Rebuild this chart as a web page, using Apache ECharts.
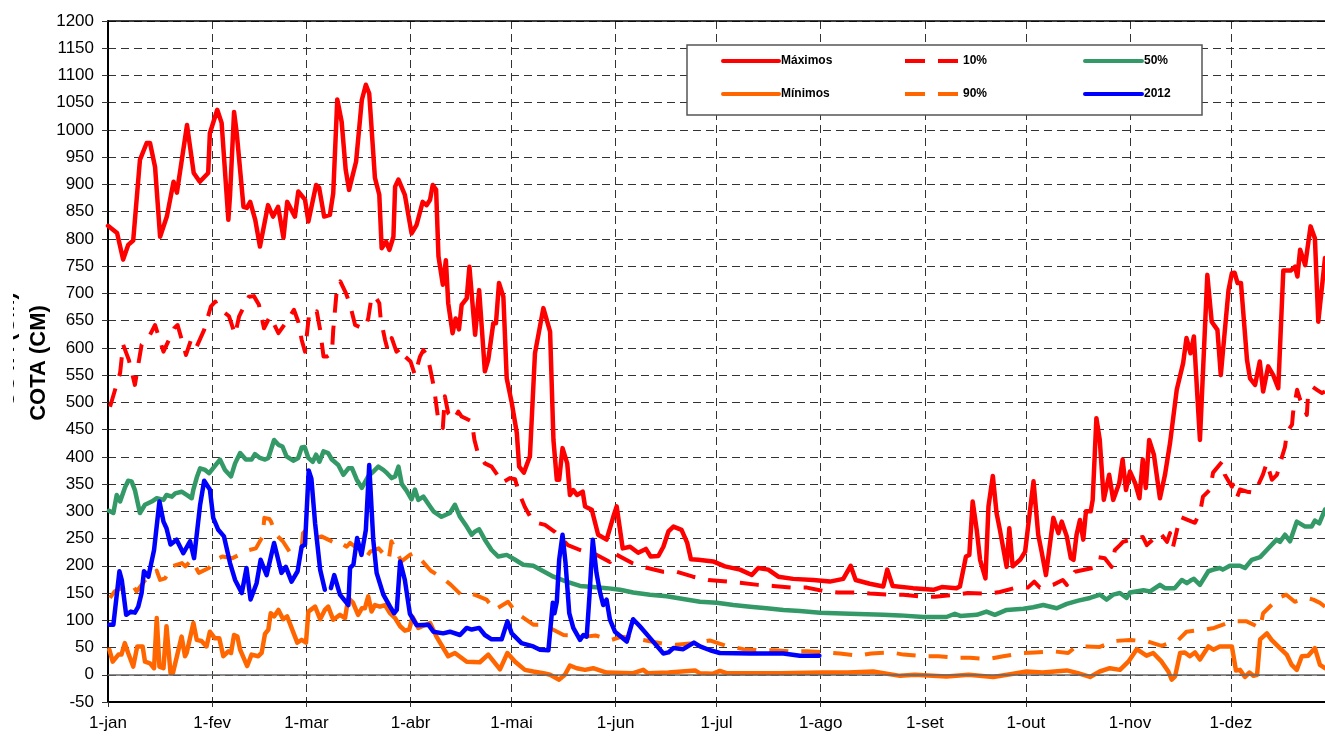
<!DOCTYPE html>
<html lang="pt">
<head>
    <meta charset="UTF-8">
    <title>Cota (cm)</title>
    <style>
        html, body { margin: 0; padding: 0; background: #fff; }
    </style>
</head>
<body>
<div id="main" style="width: 1325px;height: 738px"></div>
<script src="https://cdn.jsdelivr.net/npm/echarts@6/dist/echarts.min.js"></script>
<script>
    // eixo x: dias do ano (1-jan ... 29-dez)
    var months = ['jan', 'fev', 'mar', 'abr', 'mai', 'jun', 'jul', 'ago', 'set', 'out', 'nov', 'dez'];
    var monthDays = [31, 28, 31, 30, 31, 30, 31, 31, 30, 31, 30, 31];
    var dayCount = 363;

    var yTicks = {min: -50, max: 1200, step: 50};

    // [dia do ano (0 = 1-jan), cota em cm]
    var maxData = [[0,824],[2.7,811],[4.5,762],[6,789],[7.5,797],[9.5,945],[11.5,976],[12.5,976],[14,932],[15.5,804],[17.5,841],[19.5,905],[20.5,885],[23.5,1009],[25.5,921],[27.3,905],[29.8,921],[30.3,994],[32.5,1037],[33.8,1013],[35.8,835],[36.3,880],[37.5,1033],[38.3,994],[40.3,859],[41.3,857],[42.3,868],[43.8,835],[45.2,786],[47.6,862],[49.1,841],[50.6,859],[52.2,802],[53.3,868],[55.6,841],[56.6,887],[58.6,872],[59.6,832],[61.9,899],[62.8,894],[64.3,841],[66,844],[67,884],[68.2,1056],[69.5,1015],[70.7,927],[71.7,890],[73.8,942],[75.5,1055],[76.7,1083],[77.7,1067],[79.4,912],[80.7,881],[81.4,783],[82.7,795],[83.7,780],[84.9,804],[85.4,896],[86.4,909],[88.3,881],[90.3,810],[91.8,826],[93.6,868],[94.8,862],[95.8,872],[96.6,899],[97.6,890],[98.3,768],[99.6,716],[100.5,761],[101.2,682],[102.5,627],[103.4,654],[104.4,634],[105.2,679],[106.7,691],[107.5,749],[109.2,624],[110.4,706],[112.1,557],[113.1,578],[114.6,645],[115.4,645],[116.3,719],[117.6,694],[118.6,544],[120.1,499],[121.6,444],[122.3,382],[123.7,371],[125.5,401],[127,590],[129.5,673],[131.5,630],[132.5,431],[133.5,358],[134.2,358],[135.2,416],[136.6,388],[137.4,330],[138.4,339],[139.5,330],[141.2,336],[141.9,309],[143.9,303],[145.8,257],[148.3,248],[150.3,290],[151.3,309],[153.1,232],[155.3,235],[157.7,224],[160,231],[161.4,217],[163.7,218],[165.2,235],[166.7,263],[168.2,272],[170.6,266],[172.3,242],[173.4,212],[175.6,211],[180,208],[183.5,199],[188,193],[191.5,183],[193.4,196],[196.4,193],[199.4,180],[203.8,176],[209.8,174],[214.7,171],[218.7,176],[220.9,200],[222.4,174],[226.6,167],[230.6,162],[231.8,193],[233.4,163],[239.5,159],[245.5,156],[248,161],[252.4,159],[253.4,162],[255.2,217],[256.2,220],[257.2,318],[258.4,266],[259.4,211],[261,177],[261.9,309],[263.2,365],[264.3,297],[265.3,266],[267.3,198],[268.1,269],[269.1,199],[271.3,211],[272.8,226],[273.8,278],[275.3,355],[276.7,257],[277.7,226],[279,183],[281.2,288],[282.7,260],[283.7,281],[285.2,254],[286.4,214],[287.2,211],[288.1,257],[289.1,284],[290.1,248],[290.9,300],[292.3,300],[292.9,321],[294,471],[295,431],[296.2,321],[297.8,367],[299,321],[300.8,352],[301.8,395],[302.8,339],[304,373],[305.5,352],[306.8,324],[307.8,395],[308.7,343],[309.7,431],[311.1,404],[312.9,324],[314.4,367],[315.9,425],[317.9,523],[319.8,572],[320.8,618],[322,590],[323,621],[324.8,431],[327,734],[328.3,648],[330,633],[331,550],[333.3,706],[334.3,737],[335.1,738],[336,719],[337,719],[338.8,578],[339.7,544],[341.2,532],[342.6,575],[343.6,520],[345.1,566],[346.6,550],[348.1,526],[349.6,742],[351.8,742],[353.1,749],[353.8,731],[354.6,780],[356.1,752],[357.7,823],[359,801],[360,648],[362,765]];

    var p10Data = [[0.6,492],[3.6,554],[4.5,606],[6.2,578],[8,532],[10,606],[12,618],[14,642],[16.5,593],[19.7,636],[20.7,642],[22.8,596],[23.2,587],[24.7,615],[26.2,600],[28.6,633],[30.6,676],[31.9,685],[33,673],[36,658],[37.8,624],[39,658],[41.9,694],[43.4,695],[44.9,679],[46.4,636],[48.2,658],[50.7,627],[53.1,648],[55.3,670],[56.6,648],[57.6,615],[58.6,593],[59.8,661],[60.9,658],[62.1,667],[63.1,633],[64.1,584],[65.1,584],[66.6,590],[67,633],[68.1,710],[69.1,722],[70.8,700],[72,679],[73.5,642],[75,638],[76.4,636],[77.4,654],[78.4,694],[79.4,695],[80.7,682],[81.1,654],[82.4,615],[83.2,596],[84.4,618],[85.8,593],[87.4,600],[88.4,584],[90,575],[91.3,550],[92.8,584],[93.8,596],[94.8,587],[95.8,563],[97,526],[98.3,465],[99.6,453],[100.2,511],[101.2,480],[102.9,468],[104.2,483],[105.2,474],[108.2,465],[109,431],[110,407],[112.1,388],[114.1,382],[115.8,367],[117.1,352],[119.6,361],[121.1,359],[122.1,336],[124,308],[126.4,281],[130,275],[133,262],[136.8,238],[140.4,229],[145.4,220],[149.3,207],[150.2,224],[155.9,205],[159.1,198],[165.1,189],[169.2,189],[174,180],[178.5,174],[184.1,171],[188,169],[193.3,165],[197.8,163],[203.5,160],[207.9,160],[212.7,154],[217.1,151],[222.8,151],[226.6,149],[232.6,147],[236.5,147],[242.4,143],[246,143],[252.5,147],[255.8,150],[261.7,149],[265.3,152],[270.7,161],[273.6,160],[275.5,171],[277.2,160],[281.1,165],[284,174],[285.2,165],[287.6,189],[293,196],[294.5,216],[296.5,214],[298.5,198],[299.5,229],[301,238],[301.9,244],[306.1,251],[307.8,253],[309,238],[310.8,248],[313,260],[315,244],[315.9,260],[316.8,235],[318.9,290],[322.4,281],[323.3,279],[324.8,297],[325.7,327],[327.8,340],[328.7,371],[331.4,391],[332.2,367],[334.3,345],[334.6,349],[335.8,325],[336.7,340],[338.8,336],[341.1,334],[343.5,367],[344.7,389],[346.2,358],[347.7,367],[349.2,400],[350.1,418],[350.7,446],[352.2,459],[352.5,481],[353.7,523],[354.6,505],[356.6,477],[356.9,508],[358.4,528],[359.6,523],[361.1,517],[362,520]];

    var p50Data = [[0.3,301],[1.6,297],[2.6,330],[3.6,318],[5,343],[6,356],[7,355],[8,339],[9.5,297],[11,312],[13,318],[14.5,324],[16.5,321],[17.4,330],[19,327],[20,333],[21.9,336],[23.4,330],[24.9,324],[25.4,340],[26.4,362],[27.4,379],[28.9,376],[30.1,370],[33.3,395],[34.8,376],[36.6,364],[37.8,388],[39.3,407],[41,395],[42.7,395],[43.7,405],[45.2,398],[46.7,395],[47.7,398],[49.4,431],[50.7,422],[51.9,419],[53.1,401],[55.1,393],[56.6,398],[57.6,417],[58.5,418],[59.6,398],[60.9,391],[61.9,404],[62.9,391],[64.1,410],[65.5,407],[66.6,395],[68.5,385],[70,367],[71.5,379],[72.6,379],[74,358],[75.5,343],[77.4,364],[78.9,373],[80.4,382],[81.9,376],[83,370],[84.4,361],[85.4,364],[86.4,382],[87.4,350],[88.8,338],[90.3,322],[91.3,340],[92.3,321],[93.8,327],[95.8,309],[96.8,300],[99.2,290],[101.7,297],[103.2,312],[104.7,290],[106.7,272],[108.2,257],[109.2,263],[110.4,267],[112.1,248],[114.1,229],[116.1,217],[118.6,220],[121.1,211],[123.5,202],[126.5,200],[129.5,190],[132.5,180],[136.4,171],[140.4,163],[144.3,161],[148.3,159],[152.3,156],[156.2,151],[161.2,147],[166.2,144],[171.1,139],[176.1,134],[181.1,132],[186,128],[191,125],[195.9,122],[200.9,119],[205.8,117],[211.8,114],[220.7,112],[230.6,110],[235.6,109],[242.5,106],[249.4,106],[251.9,112],[253.5,108],[258.4,110],[261.3,116],[263.8,110],[267.3,119],[272.3,121],[275.2,124],[278.2,128],[282.2,122],[285.2,130],[288.6,136],[292.1,141],[295.1,147],[297,138],[299,147],[301,150],[303,141],[304,151],[308,155],[310,153],[312.9,165],[314.4,159],[317.3,159],[319.4,174],[320.9,168],[322.3,174],[323,176],[324.8,165],[327.3,190],[328.8,193],[330.7,196],[331.6,193],[333.7,200],[336.7,200],[338.2,196],[340.2,211],[342.7,216],[344.7,229],[347.6,248],[348.6,244],[350.1,257],[351.6,245],[353.6,281],[356.1,272],[358,272],[359,283],[360.3,278],[362,303]];

    var minData = [[0.4,46],[1.4,24],[3.1,37],[4,37],[5,58],[6,40],[7.5,15],[8.7,52],[10.3,52],[11,24],[12.5,21],[13.7,12],[14.5,104],[15.3,15],[16.5,12],[17.4,89],[18.6,3],[19.3,3],[21.9,70],[22.9,34],[23.4,40],[25.4,95],[26.4,64],[27.8,62],[29.3,52],[30.3,79],[31.8,67],[33.1,67],[34.3,34],[35.8,43],[36.6,40],[37.5,73],[38.5,70],[39.3,46],[41.4,16],[42.7,37],[44.7,34],[45.7,40],[46.7,75],[47.7,83],[48.4,113],[49.4,107],[50.7,119],[52.1,102],[53.3,107],[54.6,86],[56.3,59],[57.6,64],[58.9,59],[59.6,116],[61.6,125],[63.1,102],[64.5,119],[65.5,125],[67,101],[69,110],[70.5,104],[71.5,141],[72.9,132],[74.4,110],[75.5,122],[76.4,122],[77.4,144],[78.4,116],[79.4,128],[80.9,125],[82.4,128],[83.9,113],[85.4,104],[86.9,89],[88.3,81],[89.6,83],[90.6,106],[92.3,86],[93.8,90],[95.8,95],[97.7,70],[101.2,34],[103.2,40],[106.7,24],[110.6,23],[113.1,37],[116.6,10],[118.8,40],[121.1,24],[124,9],[126.5,6],[129.5,3],[131.5,0],[134.2,-9],[135.9,0],[137.4,17],[139.4,12],[141.9,9],[144.3,12],[148.3,4],[156.2,3],[159.2,9],[160.5,3],[166.7,4],[174.6,8],[176,3],[180,2],[182,7],[184,3],[200,3],[212,4],[220,4],[227.6,6],[235.6,-2],[240,0],[249.4,-3],[256,0],[263.3,-4],[269.3,2],[273.2,6],[278,4],[285.2,8],[288.5,3],[292.1,-4],[295,6],[298,12],[301,9],[303.5,24],[306,47],[308.9,35],[310.9,40],[313.4,24],[315.4,6],[316.4,-9],[317.4,-3],[318.9,40],[320.3,41],[321.8,34],[323.3,41],[324.8,28],[327.3,52],[328.8,46],[330.7,52],[333.2,52],[334.3,52],[335.5,8],[336.7,9],[338.2,-4],[339.5,4],[340.7,-2],[341.8,0],[342.7,65],[344.7,76],[346.1,64],[348.6,49],[350.6,37],[352.1,18],[353.6,9],[355.1,34],[357,35],[359,49],[360.5,18],[362,12]];

    var p90Data = [[0.6,141],[2,153],[7,168],[8.5,153],[11.5,177],[14.5,191],[15.5,174],[17,177],[19,199],[22,205],[23,199],[25,211],[27,187],[30,196],[32,211],[34,217],[37,214],[39,220],[41,226],[42,229],[44,232],[46,254],[46.5,288],[48,286],[48.5,281],[50,257],[52,245],[54,226],[55,226],[57.6,232],[58,260],[59,266],[60.5,254],[62,251],[63.5,254],[65.5,248],[67.5,242],[68.5,245],[71,235],[72,242],[74.5,230],[77,217],[78,226],[80.5,232],[83.5,211],[84.3,245],[85.8,226],[87.3,208],[89.8,220],[90.8,223],[92.3,217],[94,205],[96,191],[99.7,177],[102,165],[105,147],[106.7,150],[109,147],[112.6,138],[115,119],[119,134],[121.6,113],[126.5,92],[129.5,92],[135.5,73],[140,72],[142,70],[145,72],[149.8,64],[152.8,70],[159,64],[165,57],[169,55],[174,58],[179,63],[184.5,52],[189,47],[193.4,45],[198.4,45],[203.3,43],[208,43],[213.7,41],[217.7,39],[223.2,35],[227,39],[233,41],[236.6,37],[242.5,34],[247,34],[252.4,31],[256.4,31],[261.8,29],[266.3,34],[272.3,40],[275.7,41],[281.2,43],[285.6,40],[288,52],[291.1,52],[295,51],[297,56],[299.5,62],[304,64],[309.4,61],[313.4,53],[318.4,64],[320.8,79],[326.3,83],[329,86],[334.3,98],[338.7,98],[342.7,86],[343.6,113],[347.1,134],[348,141],[350.5,147],[353,134],[356.5,141],[358.5,138],[360.5,132],[362,125]];

    var y2012Data = [[0.4,92],[1.6,92],[3.4,190],[4.1,174],[5.4,110],[6.8,116],[8,114],[9,125],[10,150],[10.7,190],[12,180],[13.7,229],[15.3,318],[16.5,281],[17.4,269],[18.6,239],[20.4,248],[22.4,223],[24.4,245],[25.6,214],[27.4,312],[28.6,356],[30.3,340],[31.3,288],[32.8,266],[34.5,254],[36.3,205],[37.8,174],[39.8,150],[41.2,196],[42.4,138],[44.2,168],[45.4,211],[47.2,183],[49.4,242],[51.6,187],[52.9,198],[54.6,171],[56.4,190],[57.6,235],[58.6,239],[59.7,375],[60.5,360],[61.6,278],[63.1,193],[64.5,156],[65.4,'-'],[66.3,159],[67.3,183],[69,147],[71.5,128],[72,196],[73,202],[74.1,251],[75.4,220],[76.7,266],[77.7,385],[78.9,248],[79.9,187],[81.9,147],[83.9,125],[85.1,113],[85.9,119],[86.9,208],[88.3,174],[89.8,112],[91.8,91],[95.3,92],[96.8,79],[99.7,76],[101.7,79],[104.7,73],[106.7,86],[108.2,83],[110.4,86],[112.1,73],[114.1,65],[117.1,65],[118.8,98],[120.1,76],[123,58],[126.5,52],[128.5,46],[131,45],[132.3,132],[132.8,113],[133.5,134],[134.2,211],[135.2,257],[136.1,205],[137.2,113],[138.4,86],[140.4,64],[141.4,73],[142.4,70],[143.2,144],[144.2,248],[145.3,187],[146.3,153],[147.3,128],[148.3,138],[149.3,101],[150.8,79],[154.3,61],[156.2,102],[158.2,89],[161.7,64],[165.2,39],[166.7,41],[168.2,49],[171.1,47],[174.3,59],[176.1,52],[179.1,45],[182,40],[191,39],[200.9,39],[205.8,35],[211.6,35]];

    var dayLabels = [];
    for (var m = 0; m < 12 && dayLabels.length < dayCount; m++) {
        for (var d = 1; d <= monthDays[m] && dayLabels.length < dayCount; d++) {
            dayLabels.push(d + '-' + months[m]);
        }
    }
    function isMonthStart(index, value) {
        return value.indexOf('1-') === 0;
    }

    var font = 'Liberation Sans, Arial, sans-serif';
    var dash = [19, 13];
    var yTitle = 'COTA (CM)';

    function legendAt(name, left, top, width, dashed) {
        return {
            data: [name],
            left: left,
            top: top,
            padding: 0,
            itemWidth: width,
            itemHeight: 14,
            itemGap: 0,
            selectedMode: false,
            z: 20,
            itemStyle: {opacity: 0, borderWidth: 0},
            lineStyle: {width: 4, type: dashed ? [20, 13] : 'solid', cap: dashed ? 'butt' : 'round', opacity: 1},
            textStyle: {fontFamily: font, fontSize: 12, fontWeight: 'bold', color: '#000', padding: [0, 0, 0, dashed ? 0 : -3]}
        };
    }

    function lineSeries(name, data, color, dashed) {
        return {
            name: name,
            type: 'line',
            xAxisIndex: 1,
            data: data,
            symbol: 'none',
            showSymbol: false,
            animation: false,
            silent: true,
            lineStyle: {
                color: color,
                width: dashed ? 4 : 4.5,
                type: dashed ? dash : 'solid',
                cap: dashed ? 'butt' : 'round',
                join: 'round'
            },
            itemStyle: {color: color}
        };
    }

    function rotatedTitle(x, y, z) {
        return {
            type: 'text',
            x: x, y: y,
            rotation: Math.PI / 2,
            z: z,
            style: {text: yTitle, fontFamily: font, fontSize: 22, fontWeight: 'bold',
                fill: '#000', align: 'center', verticalAlign: 'middle'}
        };
    }

    var container = document.getElementById('main');
    var myChart = echarts.init(container);

    var series = [
        lineSeries('Máximos', maxData, '#FF0000', false),
        lineSeries('10%', p10Data, '#FF0000', true),
        lineSeries('50%', p50Data, '#339966', false),
        lineSeries('Mínimos', minData, '#FF6600', false),
        lineSeries('90%', p90Data, '#FF6600', true),
        lineSeries('2012', y2012Data, '#0000FF', false)
    ];
    // linha do zero
    series[3].markLine = {
        silent: true,
        symbol: 'none',
        label: {show: false},
        lineStyle: {color: '#666', width: 1.5, type: 'solid'},
        data: [{yAxis: 0}]
    };

    var option = {
        backgroundColor: '#fff',
        animation: false,
        grid: {left: 108, top: 21, right: 0, bottom: 36},
        legend: [
            legendAt('Máximos', 721, 55, 56, false),
            legendAt('10%', 903, 55, 53, true),
            legendAt('50%', 1083, 55, 57, false),
            legendAt('Mínimos', 721, 88, 56, false),
            legendAt('90%', 903, 88, 53, true),
            legendAt('2012', 1083, 88, 57, false)
        ],
        graphic: [
            {
                type: 'rect',
                z: 10,
                shape: {x: 687, y: 45, width: 515, height: 70},
                style: {fill: '#fff', stroke: '#555', lineWidth: 1.5}
            },
            // título duplicado, quase todo escondido
            rotatedTitle(8, 350, 5),
            {
                type: 'rect',
                z: 6,
                shape: {x: 0, y: 270, width: 13, height: 170},
                style: {fill: '#fff'}
            },
            rotatedTitle(39, 363, 7)
        ],
        xAxis: [
            {
                type: 'category',
                data: dayLabels,
                boundaryGap: false,
                axisLine: {show: true, onZero: false, lineStyle: {color: '#000', width: 2}},
                axisTick: {show: true, interval: isMonthStart, length: 5, lineStyle: {color: '#333'}},
                axisLabel: {interval: isMonthStart, margin: 13, fontFamily: font, fontSize: 17, color: '#000'},
                splitLine: {show: true, interval: isMonthStart, lineStyle: {color: '#333', width: 1, type: [8, 5]}}
            },
            {
                type: 'value',
                min: 0,
                max: dayCount - 1,
                show: false
            },
            {
                type: 'value',
                position: 'top',
                min: 0,
                max: dayCount - 1,
                axisLine: {show: true, onZero: false, lineStyle: {color: '#000', width: 1.5}},
                axisTick: {show: false},
                axisLabel: {show: false},
                splitLine: {show: false}
            }
        ],
        yAxis: {
            type: 'value',
            min: yTicks.min,
            max: yTicks.max,
            interval: yTicks.step,
            axisLine: {show: true, lineStyle: {color: '#000', width: 2}},
            axisTick: {show: true, length: 6, lineStyle: {color: '#333'}},
            axisLabel: {
                margin: 14, fontFamily: font, fontSize: 17, color: '#000',
                formatter: function (v) { return String(v); }
            },
            splitLine: {show: true, lineStyle: {color: '#333', width: 1, type: [8, 5]}}
        },
        series: series
    };

    myChart.setOption(option);
</script>
</body>
</html>
